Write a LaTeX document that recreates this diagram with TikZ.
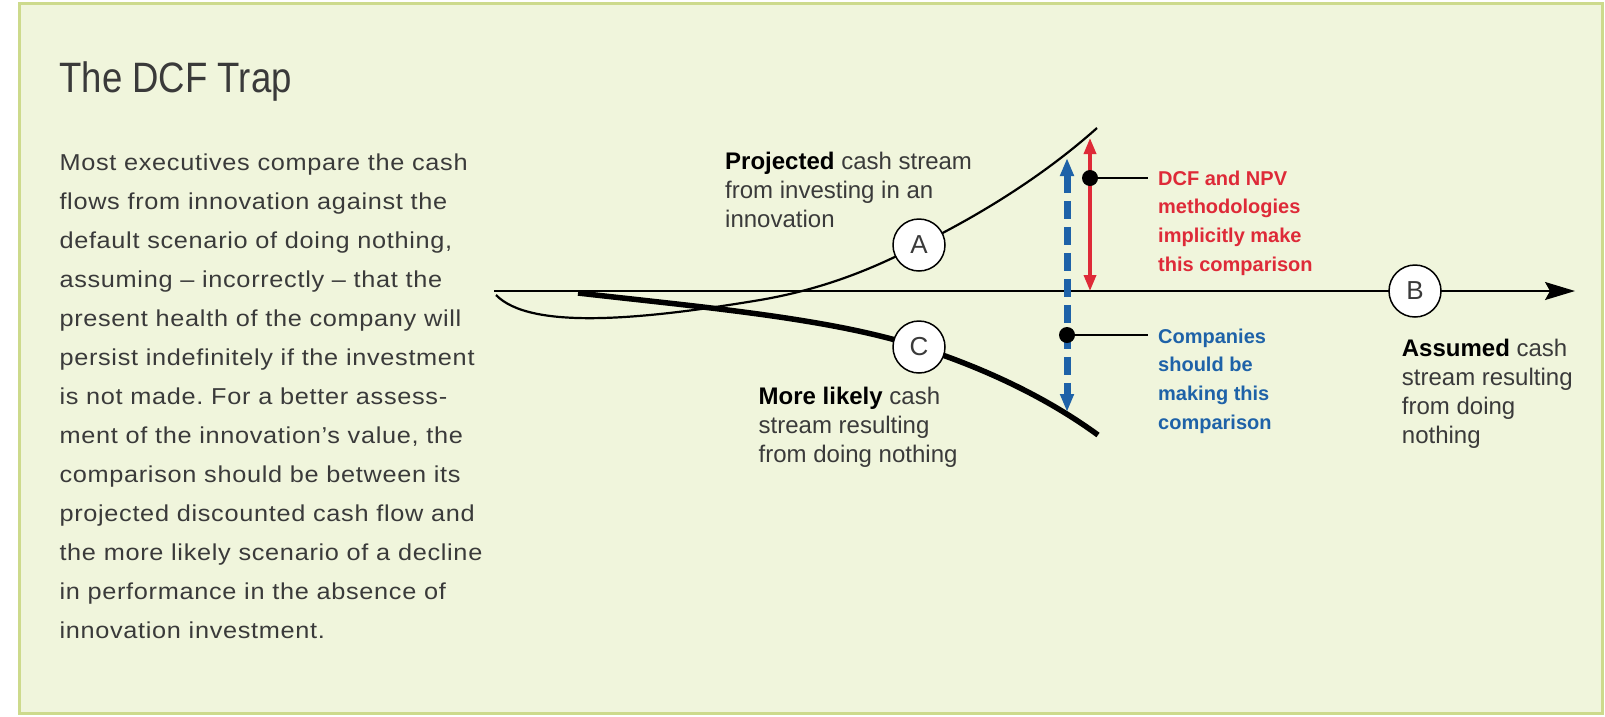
\documentclass[tikz,border=0pt]{standalone}
\usepackage{fontspec}
\setmainfont{Liberation Sans}
\newfontfamily\bodyfont[FakeStretch=1.1,LetterSpace=3]{Liberation Sans}
\newfontfamily\titlefont[FakeStretch=0.86]{Liberation Sans}
\usetikzlibrary{arrows.meta}
\definecolor{bgfill}{HTML}{F0F5DC}
\definecolor{bgline}{HTML}{CDDA8C}
\definecolor{txtgray}{HTML}{3A3A3A}
\definecolor{dcfred}{HTML}{DE2A38}
\definecolor{dcfblue}{HTML}{1E62A8}
\frenchspacing
\tikzset{
  txt/.style={anchor=base west, inner sep=0pt, text=txtgray},
  circ/.style={circle, draw=black, line width=1.5pt, fill=white, minimum size=52pt, inner sep=0pt, text=txtgray, font=\fontsize{26}{26}\selectfont},
  dotnode/.style={circle, fill=black, minimum size=16pt, inner sep=0pt},
  leader/.style={draw=black, line width=1.2pt},
  lbl/.style={txt, font=\fontsize{24}{29}\selectfont},
  keylbl/.style={anchor=base west, inner sep=0pt, font=\bfseries\fontsize{20}{28.7}\selectfont},
}
\begin{document}
\begin{tikzpicture}[x=1pt,y=-1pt]
\useasboundingbox (0,0) rectangle (1605,716);
\fill[white] (0,0) rectangle (1605,716);
\draw[bgline, line width=3pt, fill=bgfill] (19.5,3.5) rectangle (1602,713.5);

% title and body text
\node[txt, font=\titlefont\fontsize{42.5}{50}\selectfont] (title) at (59.3,92.3) {The DCF Trap};
\node[txt, font=\bodyfont\fontsize{23}{39}\selectfont] (body) at (59.3,170.7) {\vtop{%
\hbox{Most executives compare the cash}
\hbox{flows from innovation against the}
\hbox{default scenario of doing nothing,}
\hbox{assuming – incorrectly – that the}
\hbox{present health of the company will}
\hbox{persist indefinitely if the investment}
\hbox{is not made. For a better assess-}
\hbox{ment of the innovation’s value, the}
\hbox{comparison should be between its}
\hbox{projected discounted cash flow and}
\hbox{the more likely scenario of a decline}
\hbox{in performance in the absence of}
\hbox{innovation investment.}}};

% coordinates
\coordinate (axL) at (494,291);
\coordinate (axR) at (1575,291);
\coordinate (pA) at (919,245);
\coordinate (pB) at (1415,291);
\coordinate (pC) at (919,347);
\coordinate (upS) at (496,295);
\coordinate (upM) at (760,300);
\coordinate (upE) at (1097,128);
\coordinate (loS) at (578,293);
\coordinate (loE) at (1098,435);
\coordinate (bT) at (1067,158);
\coordinate (bB) at (1067,412);
\coordinate (rT) at (1090,138);
\coordinate (rB) at (1090,291);
\coordinate (rL) at (1148,178);
\coordinate (bL) at (1148,335);

% axis
\draw[line width=1.5pt, -{Stealth[length=30pt,width=18pt,inset=5pt]}] (axL) -- (axR);

% curves
\draw[line width=2.2pt] (upS) .. controls (530,330) and (640,320) .. (upM)
  .. controls (830,288) and (880,265) .. (pA)
  .. controls (990,210) and (1050,170) .. (upE);
\draw[line width=5.5pt] (loS) .. controls (700,307) and (830,318) .. (pC)
  .. controls (990,370) and (1050,400) .. (loE);

% comparison arrows
\draw[dcfblue, line width=7pt, dash pattern=on 18pt off 8pt,
  {Triangle[length=18pt,width=13pt]}-{Triangle[length=18pt,width=13pt]}] (bT) -- (bB);
\draw[dcfred, line width=3.5pt,
  {Triangle[length=16pt,width=12pt]}-{Triangle[length=16pt,width=12pt]}] (rT) -- (rB);

% dots and leaders
\node[dotnode] (rdot) at (1090,178) {};
\node[dotnode] (bdot) at (1067,335) {};
\draw[leader] (rdot) -- (rL);
\draw[leader] (bdot) -- (bL);

% circles
\node[circ] (A) at (pA) {A};
\node[circ] (B) at (pB) {B};
\node[circ] (C) at (pC) {C};

% labels
\node[lbl] (projlbl) at (725,169) {\vtop{%
\hbox{\textbf{\color{black}Projected} cash stream}
\hbox{from investing in an}
\hbox{innovation}}};
\node[lbl] (likelylbl) at (758.5,404) {\vtop{%
\hbox{\textbf{\color{black}More likely} cash}
\hbox{stream resulting}
\hbox{from doing nothing}}};
\node[lbl] (assumedlbl) at (1401.7,356) {\vtop{%
\hbox{\textbf{\color{black}Assumed} cash}
\hbox{stream resulting}
\hbox{from doing}
\hbox{nothing}}};
\node[keylbl, text=dcfred] (redlbl) at (1158,185) {\vtop{%
\hbox{DCF and NPV}
\hbox{methodologies}
\hbox{implicitly make}
\hbox{this comparison}}};
\node[keylbl, text=dcfblue] (bluelbl) at (1158,343) {\vtop{%
\hbox{Companies}
\hbox{should be}
\hbox{making this}
\hbox{comparison}}};
\end{tikzpicture}
\end{document}
